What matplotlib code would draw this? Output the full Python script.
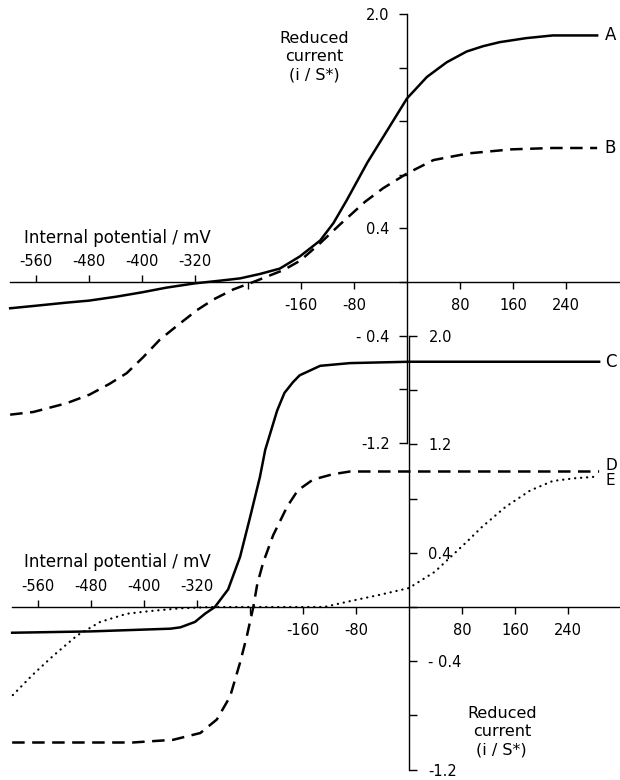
"""Reduced current vs internal potential: two stacked panels sharing the 0 mV line.

Top panel: curves A (solid) and B (dashed).
Bottom panel: curves C (solid), D (dashed) and E (dotted).
"""
import matplotlib
matplotlib.use("Agg")
import matplotlib.pyplot as plt
from matplotlib.ticker import FixedLocator, FixedFormatter

plt.rcParams["axes.unicode_minus"] = False
plt.rcParams["font.family"] = ["DejaVu Sans"]

# ---- data (mV, i/S*) ----
A_mv = [-599, -564, -514, -480, -438, -400, -363, -320, -282, -252, -222, -192, -162, -131,
        -111, -91, -60, -30, 0, 30, 60, 90, 115, 140, 180, 220, 287]
A_i = [-0.196, -0.179, -0.154, -0.139, -0.109, -0.077, -0.042, -0.01, 0.01, 0.027, 0.06, 0.10,
       0.19, 0.31, 0.44, 0.61, 0.89, 1.13, 1.37, 1.53, 1.64, 1.72, 1.76, 1.79, 1.82, 1.84, 1.84]

B_mv = [-599, -564, -514, -479, -449, -423, -398, -373, -348, -317, -292, -262, -232, -186,
        -161, -131, -101, -63, -36, 0, 40, 93, 158, 220, 287]
B_i = [-0.99, -0.97, -0.905, -0.84, -0.76, -0.68, -0.56, -0.43, -0.33, -0.21, -0.13, -0.055,
       0.0, 0.09, 0.16, 0.29, 0.43, 0.60, 0.70, 0.81, 0.91, 0.96, 0.99, 1.0, 1.0]

C_mv = [-599, -480, -360, -345, -323, -308, -293, -273, -255, -240, -225, -217, -199, -188,
        -175, -165, -134, -89, 0, 100, 200, 287]
C_i = [-0.19, -0.18, -0.16, -0.15, -0.11, -0.05, 0.0, 0.13, 0.37, 0.66, 0.96, 1.16, 1.45, 1.58,
       1.66, 1.71, 1.78, 1.80, 1.81, 1.81, 1.81, 1.81]

D_mv = [-599, -480, -417, -356, -315, -290, -270, -255, -245, -235, -229, -220, -205, -184,
        -168, -145, -115, -89, 0, 100, 200, 287]
D_i = [-1.0, -1.0, -1.0, -0.98, -0.93, -0.83, -0.66, -0.41, -0.22, 0.0, 0.17, 0.33, 0.53, 0.74,
       0.86, 0.94, 0.98, 1.0, 1.0, 1.0, 1.0, 1.0]

E_mv = [-598, -568, -537, -501, -466, -426, -391, -346, -300, -200, -128, -92, -44, 0,
        39, 63, 87, 110, 146, 183, 217, 250, 278]
E_i = [-0.65, -0.50, -0.36, -0.21, -0.11, -0.05, -0.03, -0.01, 0.0, 0.0, 0.0, 0.04, 0.09, 0.14,
       0.26, 0.37, 0.48, 0.59, 0.74, 0.86, 0.93, 0.95, 0.96]

X_NEG = [-560, -480, -400, -320]
X_POS = [-240, -160, -80, 80, 160, 240]
X_POS_LABELS = ["", "-160", "-80", "80", "160", "240"]
Y_TICKS = [-1.2, -0.8, -0.4, 0.0, 0.4, 0.8, 1.2, 1.6, 2.0]
Y_LABELS_TOP = ["-1.2", "", "- 0.4", "", "0.4", "", "", "", "2.0"]
Y_LABELS_BOT = ["-1.2", "", "- 0.4", "", "0.4", "", "1.2", "", "2.0"]

W, H = 620, 780
fig = plt.figure(figsize=(W / 100, H / 100), dpi=100)
fig.patch.set_facecolor("white")


def panel(x0, y0, px_mv, px_unit, side):
    """Full-figure transparent axes; (x0, y0) is the pixel of the origin."""
    ax = fig.add_axes([0, 0, 1, 1])
    ax.patch.set_visible(False)
    ax.set_xlim(-x0 / px_mv, (W - x0) / px_mv)
    ax.set_ylim((y0 - H) / px_unit, y0 / px_unit)

    for s in ("top", "bottom"):
        ax.spines[s].set_position(("data", 0))
        ax.spines[s].set_bounds(-599, (W - x0) / px_mv)
        ax.spines[s].set_linewidth(1.0)
    ax.spines["top"].set_visible(False)

    other = "right" if side == "left" else "left"
    ax.spines[other].set_visible(False)
    ax.spines[side].set_position(("data", 0))
    ax.spines[side].set_bounds(-1.2, 2.0)
    ax.spines[side].set_linewidth(1.0)

    ax.xaxis.set_major_locator(FixedLocator(X_POS))
    ax.xaxis.set_major_formatter(FixedFormatter(X_POS_LABELS))
    ax.xaxis.set_minor_locator(FixedLocator(X_NEG))
    ax.xaxis.set_minor_formatter(FixedFormatter([str(v) for v in X_NEG]))
    ax.tick_params(axis="x", which="major", bottom=True, top=False, labelbottom=True,
                   labeltop=False, direction="out", length=5, width=1, pad=6.5, labelsize=10.5)
    ax.tick_params(axis="x", which="minor", bottom=False, top=True, labelbottom=False,
                   labeltop=True, direction="out", length=5, width=1, pad=4.3, labelsize=10.5)

    ax.yaxis.set_major_locator(FixedLocator(Y_TICKS))
    if side == "left":
        ax.yaxis.tick_left()
        ax.yaxis.set_major_formatter(FixedFormatter(Y_LABELS_TOP))
        ax.tick_params(axis="y", direction="out", length=6, width=1, pad=6.5, labelsize=10.5)
    else:
        ax.yaxis.tick_right()
        ax.yaxis.set_major_formatter(FixedFormatter(Y_LABELS_BOT))
        ax.tick_params(axis="y", direction="out", length=6, width=1, pad=8, labelsize=10.5)
    return ax


top = panel(407, 282, 0.6625, 134.0, "left")
bot = panel(409, 607, 0.6625, 135.5, "right")

LW = 1.8
top.plot(A_mv, A_i, color="black", lw=LW, solid_joinstyle="round")
top.plot(B_mv, B_i, color="black", lw=LW, ls=(0, (5, 3)))
bot.plot(C_mv, C_i, color="black", lw=LW, solid_joinstyle="round")
bot.plot(D_mv, D_i, color="black", lw=LW, ls=(0, (5, 3)))
bot.plot(E_mv, E_i, color="black", lw=1.6, ls=(0, (0.1, 2.6)), dash_capstyle="round")

lab = dict(fontsize=12, ha="left")
top.text(298, A_i[-1], "A", va="center", **lab)
top.text(298, B_i[-1], "B", va="center", **lab)
bot.text(296, C_i[-1], "C", va="center", **lab)
bot.text(296, 0.99, "D", va="bottom", fontsize=11, ha="left")
bot.text(296, 0.99, "E", va="top", fontsize=11, ha="left")

ylab = dict(fontsize=11.5, ha="center", va="center", linespacing=1.3)
top.text(-140, 1.68, "Reduced\ncurrent\n(i / S*)", **ylab)
bot.text(140, -0.92, "Reduced\ncurrent\n(i / S*)", **ylab)

xlab = dict(fontsize=12, ha="left", va="center")
top.text(-578, 0.33, "Internal potential / mV", **xlab)
bot.text(-581, 0.33, "Internal potential / mV", **xlab)

fig.savefig("out.png", dpi=100, facecolor="white")
